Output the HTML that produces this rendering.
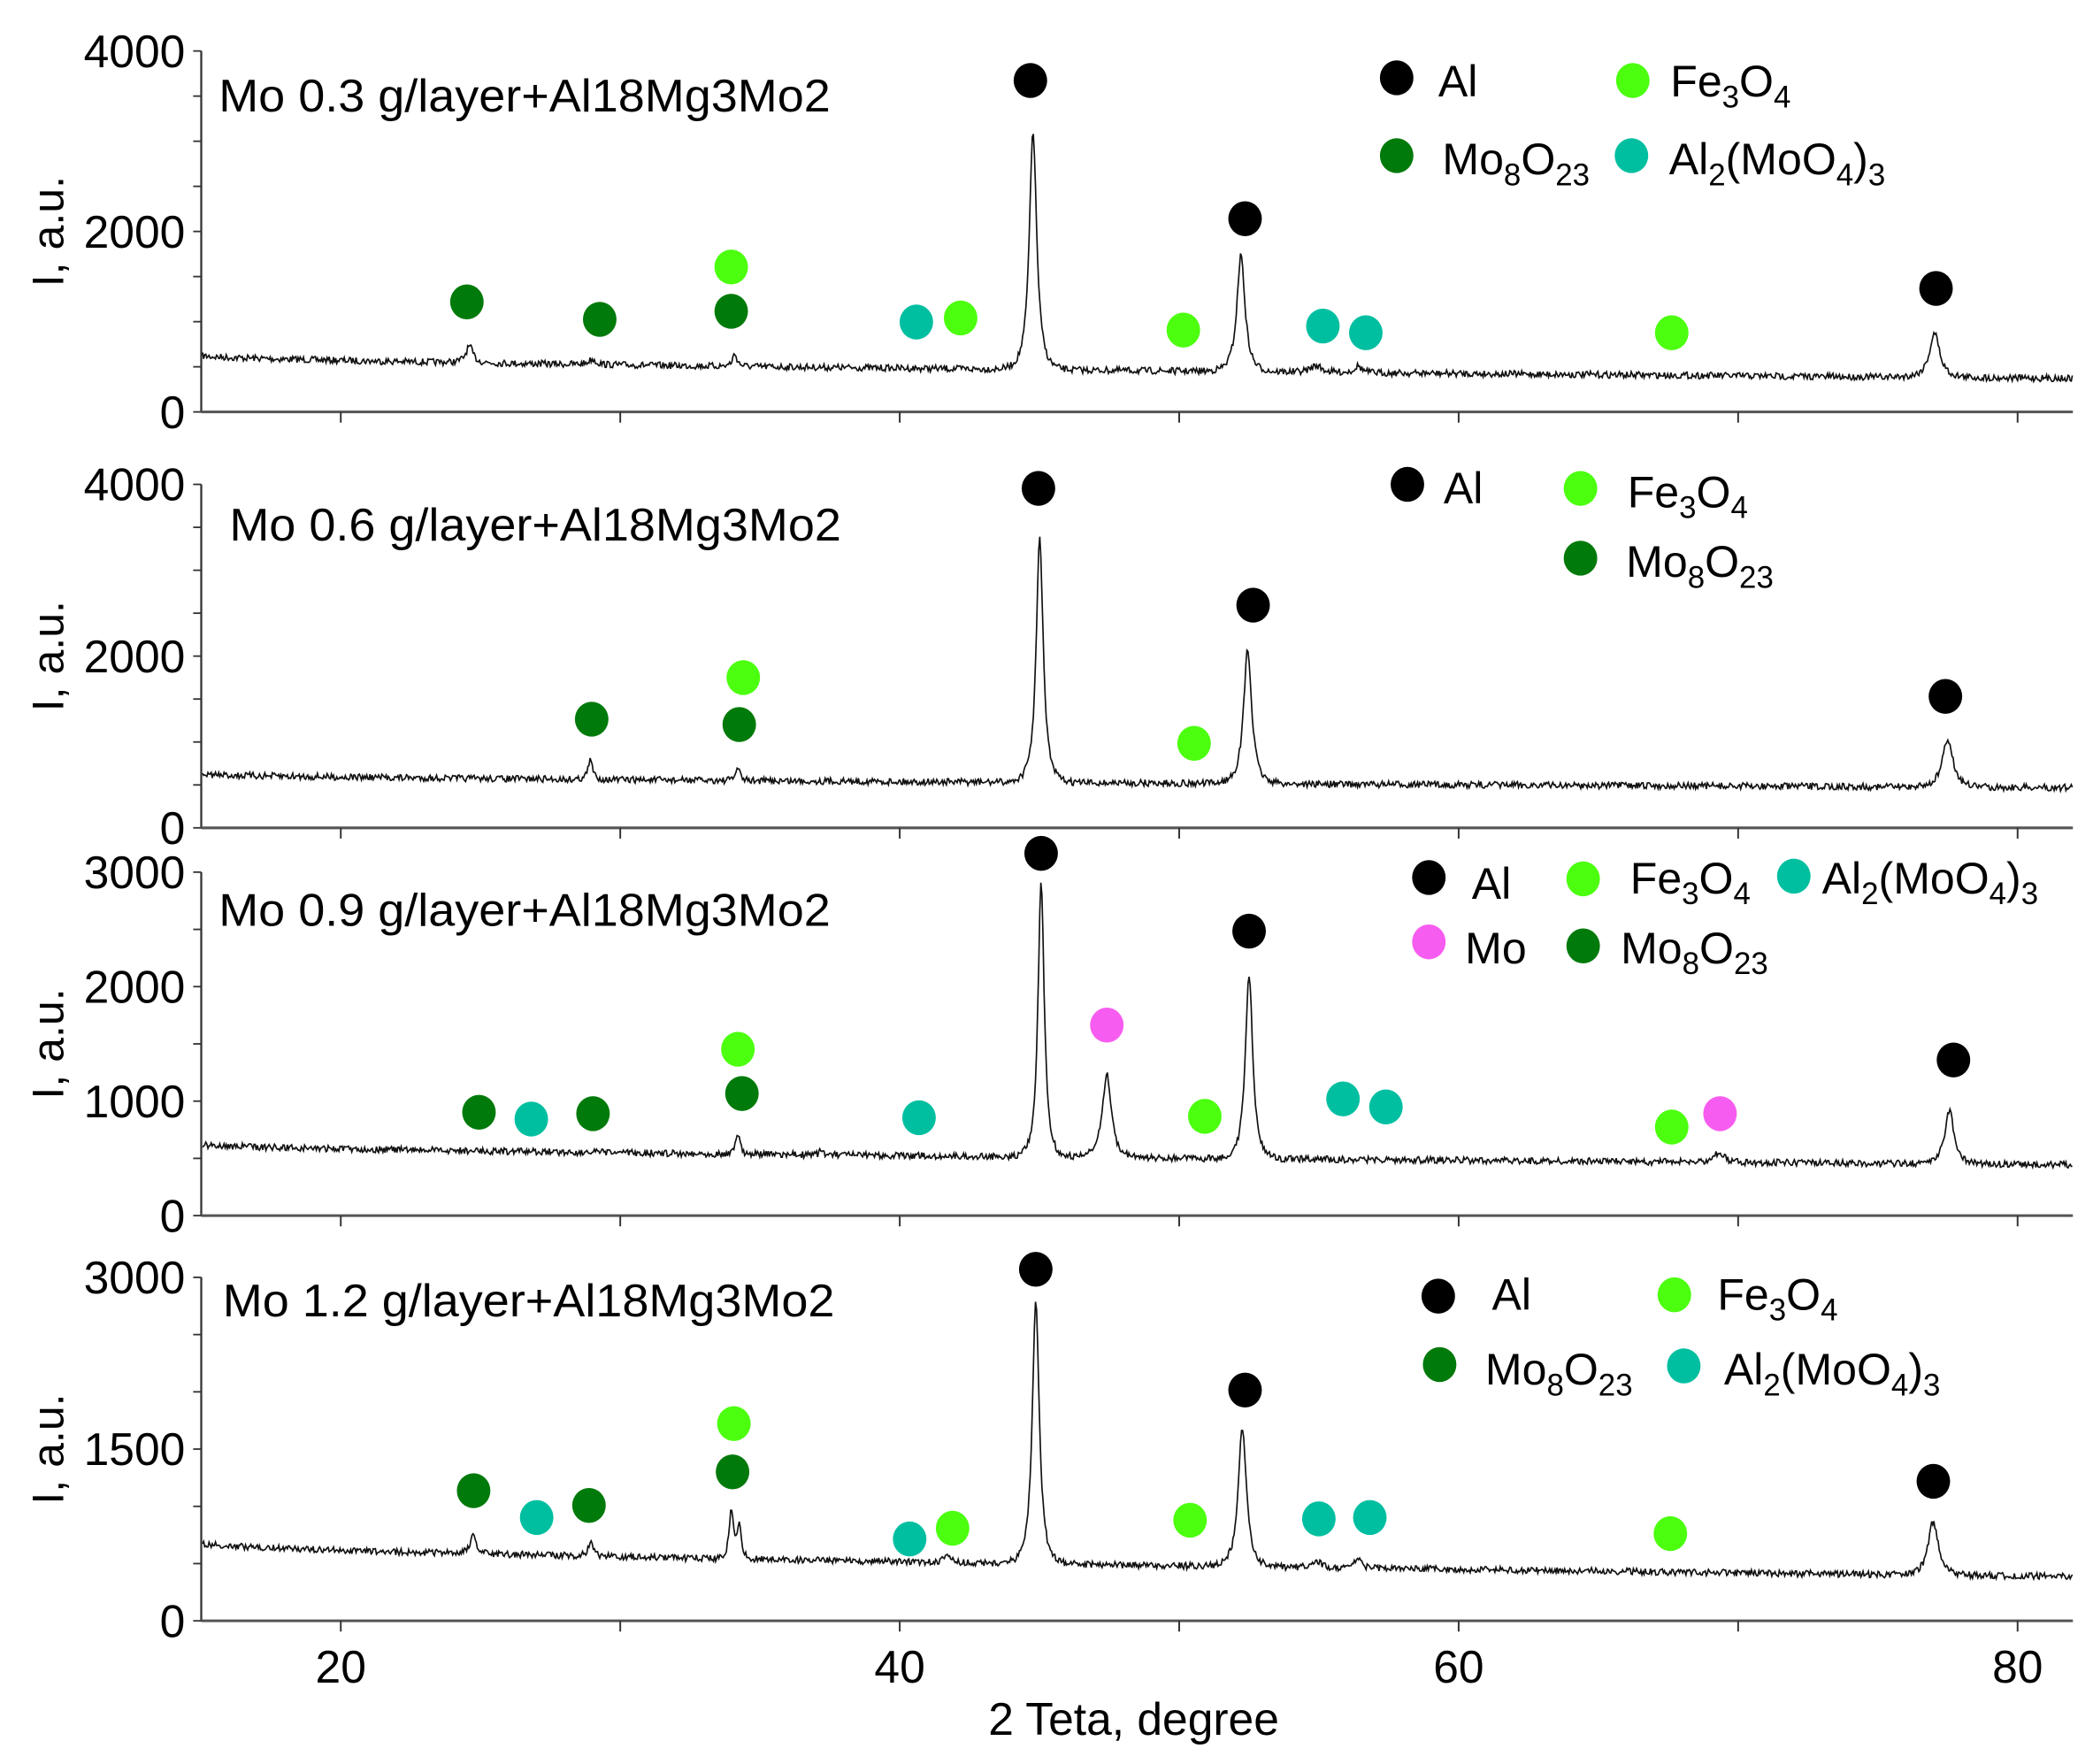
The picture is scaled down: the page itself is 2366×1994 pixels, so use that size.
<!DOCTYPE html>
<html><head><meta charset="utf-8"><style>
html,body{margin:0;padding:0;background:#fff;}
svg{display:block;}
text{font-family:"Liberation Sans",sans-serif;fill:#000;}
</style></head><body>
<svg id="s" width="2366" height="1994" viewBox="0 0 1560 1314.7" preserveAspectRatio="none" xmlns="http://www.w3.org/2000/svg">
<rect width="1560" height="1315" fill="#fff"/>
<g id="g"></g>
</svg>
<script>
var NS="http://www.w3.org/2000/svg",G=document.getElementById('g');
function el(t,a,txt){var e=document.createElementNS(NS,t);for(var k in a)e.setAttribute(k,a[k]);if(txt!==undefined)e.textContent=txt;G.appendChild(e);return e;}
function X(t){return 254+(t-20)*20.83;}
var seed=7;function rnd(){seed=(seed*16807)%2147483647;return seed/2147483647;}
var C={k:'#000',d:'#007a0a',l:'#4cff0f',t:'#00bfa0',m:'#f75cf0'};
var panels=[
{top:38,bot:307,max:4000,labels:[4000,2000,0],title:"Mo 0.3 g/layer+Al18Mg3Mo2",tx:163,ty:83,
 b0:265,b1:282,peaks:[[24.6,12,.2],[34.1,9,.13],[44.77,178,.2],[52.21,87,.22],[77.03,33,.28],[54.9,5,.3],[56.4,5,.2],[29,4,.2]],
 mk:[['k',768,60],['k',928,163],['k',1443,215],['d',348,225],['d',447,238],['d',545,232],['l',545,199],['l',716,237],['l',882,246],['l',1246,248],['t',683,240],['t',986,243],['t',1018,248]],
 leg:[['k',1041,58,'Al',1072,72],['l',1217,60,'Fe|3|O|4',1245,72],['d',1041,116,'Mo|8|O|23',1075,130],['t',1216,116,'Al|2|(MoO|4|)|3',1244,130]]},
{top:361,bot:617,max:4000,labels:[4000,2000,0],title:"Mo 0.6 g/layer+Al18Mg3Mo2",tx:171,ty:403,
 b0:577,b1:587,peaks:[[28.93,14,.13],[34.2,10,.11],[45.01,182,.19],[52.45,100,.22],[77.5,36,.28]],
 mk:[['k',774,364],['k',934,451],['k',1450,519],['d',441,536],['d',551,540],['l',554,505],['l',890,554]],
 leg:[['k',1049,361,'Al',1076,375],['l',1178,364,'Fe|3|O|4',1213,378],['d',1178,416,'Mo|8|O|23',1212,430]]},
{top:650,bot:906,max:3000,labels:[3000,2000,1000,0],title:"Mo 0.9 g/layer+Al18Mg3Mo2",tx:163,ty:690,
 b0:853,b1:868,peaks:[[34.2,16,.11],[45.06,205,.17],[47.41,63,.24],[52.5,138,.2],[69.3,7,.3],[77.56,40,.25],[37.2,4,.1]],
 mk:[['k',776,636],['k',931,694],['k',1456,790],['m',825,764],['m',1282,830],['l',550,782],['l',898,832],['l',1246,840],['d',357,829],['d',442,830],['d',553,815],['t',396,834],['t',685,833],['t',1001,819],['t',1033,825]],
 leg:[['k',1065,654,'Al',1097,670],['l',1180,655,'Fe|3|O|4',1215,666],['t',1337,653,'Al|2|(MoO|4|)|3',1358,666],['m',1065,702,'Mo',1092,718],['d',1180,705,'Mo|8|O|23',1208,718]]},
{top:952,bot:1208,max:3000,labels:[3000,1500,0],title:"Mo 1.2 g/layer+Al18Mg3Mo2",tx:166,ty:981,
 b0:1150,b1:1175,peaks:[[24.75,14,.16],[28.93,10,.13],[33.97,38,.11],[34.25,26,.11],[44.87,197,.19],[52.26,104,.22],[54.9,6,.2],[56.4,7,.2],[76.98,40,.27],[41.7,5,.2]],
 mk:[['k',772,946],['k',928,1036],['k',1441,1104],['d',353,1111],['d',439,1122],['d',546,1097],['t',400,1131],['t',678,1147],['t',983,1132],['t',1021,1131],['l',547,1061],['l',710,1139],['l',887,1133],['l',1245,1143]],
 leg:[['k',1072,966,'Al',1112,976],['l',1248,965,'Fe|3|O|4',1280,976],['d',1073,1017,'Mo|8|O|23',1107,1032],['t',1255,1018,'Al|2|(MoO|4|)|3',1285,1032]]}
];
panels.forEach(function(p,pi){
 var L=150,R=1545;
 el('line',{x1:L,y1:p.top,x2:L,y2:p.bot,stroke:'#333','stroke-width':1.5});
 el('line',{x1:L,y1:p.bot,x2:R,y2:p.bot,stroke:'#555','stroke-width':2});
 var n=p.max/500;
 for(var i=0;i<=n;i++){var y=p.bot-(p.bot-p.top)*i/n;el('line',{x1:L-6,y1:y,x2:L,y2:y,stroke:'#333','stroke-width':1.2});}
 p.labels.forEach(function(v){var y=p.bot-(p.bot-p.top)*v/p.max;el('text',{x:L-12,y:y+12,'font-size':34,'text-anchor':'end'},String(v));});
 for(var t=20;t<=80;t+=10){var x=X(t);el('line',{x1:x,y1:p.bot,x2:x,y2:p.bot+8,stroke:'#333','stroke-width':1.3});}
 var cy=(p.top+p.bot)/2;
 el('text',{x:0,y:0,'font-size':33,'text-anchor':'middle',transform:'translate(47,'+cy+') rotate(-90)'},'I, a.u.');
 var d='';
 for(var x=L+1;x<=R;x+=0.8){var th=20+(x-254)/20.83;var f=(x-L)/(R-L);
  var base=p.b0+(p.b1-p.b0)*Math.pow(f,0.6);var y=base+(rnd()-0.5)*5;
  p.peaks.forEach(function(k){var dd=(th-k[0])/k[2];y-=k[1]/(1+dd*dd*1.6)*Math.exp(-dd*dd*0.05);});
  d+=(d?'L':'M')+x.toFixed(1)+' '+y.toFixed(1);}
 el('path',{d:d,fill:'none',stroke:'#111','stroke-width':1.1});
 el('text',{x:p.tx,y:p.ty,'font-size':34,textLength:456,lengthAdjust:'spacingAndGlyphs'},p.title);
 p.mk.forEach(function(m){el('ellipse',{cx:m[1],cy:m[2],rx:12.5,ry:13,fill:C[m[0]]});});
 p.leg.forEach(function(m){el('ellipse',{cx:m[1],cy:m[2],rx:12.5,ry:13,fill:C[m[0]]});
  var parts=m[3].split('|');var t=el('text',{x:m[4],y:m[5],'font-size':33});t.textContent='';
  parts.forEach(function(s,i){var ts=document.createElementNS(NS,'tspan');ts.textContent=s;
   if(i%2==1){ts.setAttribute('font-size','23');ts.setAttribute('dy','8');}else if(i>0){ts.setAttribute('dy','-8');}
   t.appendChild(ts);});
 });
});
[20,40,60,80].forEach(function(v){el('text',{x:X(v),y:1254,'font-size':34,'text-anchor':'middle'},String(v));});
el('text',{x:845,y:1293,'font-size':34,'text-anchor':'middle'},'2 Teta, degree');
</script>
</body></html>
